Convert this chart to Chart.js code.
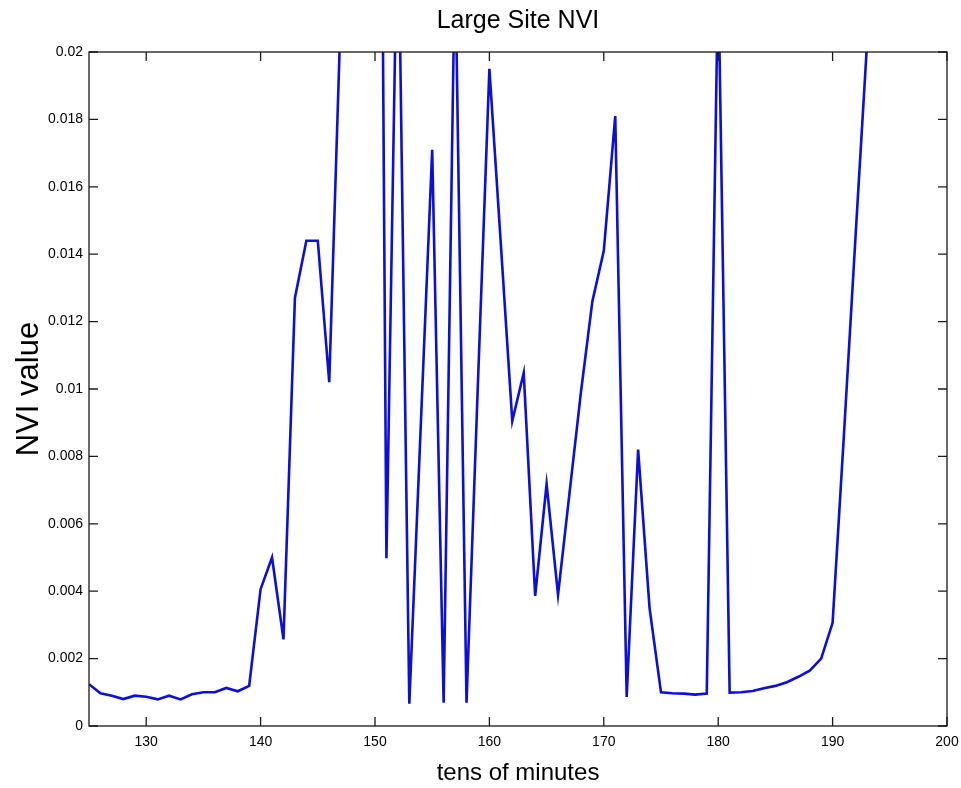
<!DOCTYPE html>
<html>
<head>
<meta charset="utf-8">
<title>Large Site NVI</title>
<script src="https://cdn.jsdelivr.net/npm/chart.js@4.4.1/dist/chart.umd.min.js"></script>
<style>
    html, body { margin: 0; padding: 0; background: #fff; }
    #wrap { width: 961px; height: 788px; }
</style>
</head>
<body>
<div id="wrap"><canvas id="nviChart" width="961" height="788"></canvas></div>
<script>
// ========== DATA ==========
const minutes = [
    125, 126, 127, 128, 129, 130, 131, 132, 133, 134, 135, 136, 137, 138, 139,
    140, 141, 142, 143, 144, 145, 146, 147, 148, 149, 150, 151, 152, 153, 154,
    155, 156, 157, 158, 159, 160, 161, 162, 163, 164, 165, 166, 167, 168, 169,
    170, 171, 172, 173, 174, 175, 176, 177, 178, 179, 180, 181, 182, 183, 184,
    185, 186, 187, 188, 189, 190, 191, 192, 193, 194
];
const nviValues = [
    0.00124, 0.00097, 0.0009, 0.0008, 0.0009, 0.00087, 0.00079, 0.0009, 0.00079, 0.00094, 0.001, 0.001, 0.00113, 0.00103, 0.00119,
    0.00406, 0.005, 0.00257, 0.0127, 0.0144, 0.0144, 0.0102, 0.0211, 0.04, 0.05, 0.055, 0.00498, 0.025, 0.00066, 0.0089,
    0.0171, 0.00069, 0.023, 0.00069, 0.0102, 0.0195, 0.0143, 0.00905, 0.01048, 0.00386, 0.00718, 0.00389, 0.0069, 0.0099, 0.0126,
    0.0141, 0.0181, 0.00086, 0.0082, 0.0035, 0.001, 0.00097, 0.00096, 0.00093, 0.00096, 0.0225, 0.00099, 0.001, 0.00104, 0.00112,
    0.00119, 0.0013, 0.00146, 0.00164, 0.002, 0.00306, 0.0087, 0.0145, 0.0202, 0.026
];
const xTicks = [130, 140, 150, 160, 170, 180, 190, 200];
const yTicks = [0, 0.002, 0.004, 0.006, 0.008, 0.01, 0.012, 0.014, 0.016, 0.018, 0.02];

const FONT = '"Liberation Sans", Arial, sans-serif';
const TICK_LEN = 9;

// ========== MATLAB STYLE BOX + INWARD TICKS ==========
const matlabAxes = {
    id: 'matlabAxes',
    afterDatasetsDraw(chart) {
        const { ctx, chartArea: a, scales: { x, y } } = chart;
        ctx.save();
        ctx.strokeStyle = '#1a1a1a';
        ctx.lineWidth = 1.3;
        ctx.strokeRect(a.left, a.top, a.right - a.left, a.bottom - a.top);
        ctx.beginPath();
        xTicks.forEach(v => {
            const px = x.getPixelForValue(v);
            ctx.moveTo(px, a.bottom); ctx.lineTo(px, a.bottom - TICK_LEN);
            ctx.moveTo(px, a.top); ctx.lineTo(px, a.top + TICK_LEN);
        });
        yTicks.forEach(v => {
            const py = y.getPixelForValue(v);
            ctx.moveTo(a.left, py); ctx.lineTo(a.left + TICK_LEN, py);
            ctx.moveTo(a.right, py); ctx.lineTo(a.right - TICK_LEN, py);
        });
        ctx.stroke();
        ctx.restore();
    }
};

// ========== CHART ==========
const ctx = document.getElementById('nviChart').getContext('2d');
const nviChart = new Chart(ctx, {
    type: 'line',
    data: {
        datasets: [{
            label: 'NVI',
            data: minutes.map((m, i) => ({ x: m, y: nviValues[i] })),
            borderColor: 'rgb(12, 16, 215)',
            borderWidth: 2.6,
            pointRadius: 0,
            tension: 0,
            fill: false
        }]
    },
    options: {
        responsive: false,
        animation: false,
        events: [],
        layout: { padding: { top: 0, right: 14, bottom: 0, left: 0 } },
        plugins: {
            legend: { display: false },
            tooltip: { enabled: false },
            title: {
                display: true,
                fullSize: false,
                text: 'Large Site NVI',
                color: '#000',
                font: { family: FONT, size: 25, weight: 'normal' },
                padding: { top: 6.5, bottom: 15.5 }
            }
        },
        scales: {
            x: {
                type: 'linear',
                min: 125,
                max: 200,
                afterBuildTicks: scale => { scale.ticks = xTicks.map(v => ({ value: v })); },
                afterFit: scale => {
                    scale.height = 62;
                    scale.paddingLeft = 0;
                    scale.paddingRight = 0;
                },
                grid: { display: false, drawTicks: false },
                border: { display: false },
                ticks: {
                    color: '#000',
                    padding: 8,
                    maxRotation: 0,
                    autoSkip: false,
                    font: { family: FONT, size: 14 },
                    callback: v => String(v)
                },
                title: {
                    display: true,
                    text: 'tens of minutes',
                    color: '#000',
                    font: { family: FONT, size: 24 },
                    padding: { top: 0, bottom: 0 }
                }
            },
            y: {
                type: 'linear',
                min: 0,
                max: 0.02,
                afterBuildTicks: scale => { scale.ticks = yTicks.map(v => ({ value: v })); },
                afterFit: scale => { scale.width = 89; },
                grid: { display: false, drawTicks: false },
                border: { display: false },
                ticks: {
                    color: '#000',
                    padding: 6,
                    autoSkip: false,
                    font: { family: FONT, size: 14 },
                    callback: v => String(+v.toFixed(3))
                },
                title: {
                    display: true,
                    text: 'NVI value',
                    color: '#000',
                    font: { family: FONT, size: 31 },
                    padding: { top: 10.5, bottom: 0 }
                }
            }
        }
    },
    plugins: [matlabAxes]
});
</script>
</body>
</html>
